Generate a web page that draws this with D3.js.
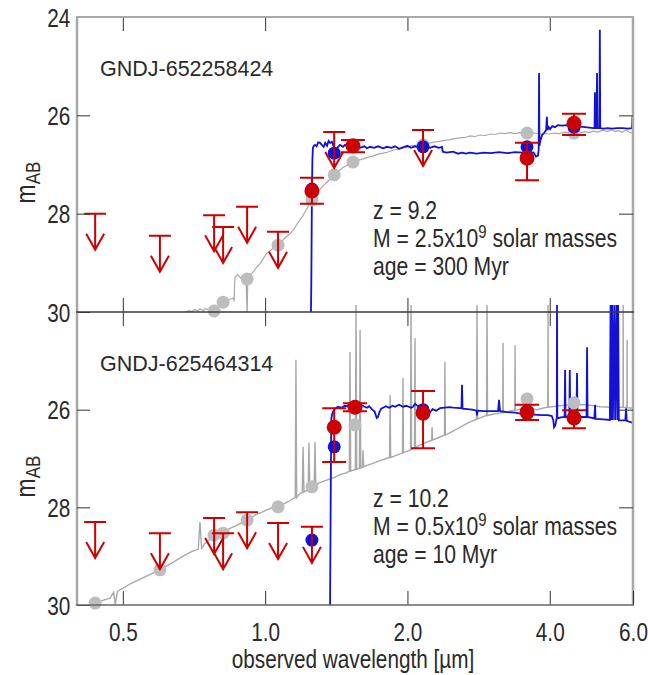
<!DOCTYPE html>
<html>
<head>
<meta charset="utf-8">
<script src="https://cdn.jsdelivr.net/npm/d3@7"></script>
<style>
body{margin:0;background:#fff}
svg text{font-family:"Liberation Sans",Arial,sans-serif;fill:#2a2a2a}
.tk text{font-size:25px}
.lbl{font-size:21.5px}
</style>
</head>
<body>
<div id="canvas"></div>
<script>
// ---- data (wavelength in micron, AB magnitude) ----
const xTicks = [0.5, 1.0, 2.0, 4.0, 6.0]
const yTicks = [24, 26, 28, 30]
const names = ["GNDJ-652258424", "GNDJ-625464314"]
const zText = ["z = 9.2", "z = 10.2"]
const massText = ["2.5", "0.5"]
const ageText = ["age = 300 Myr", "age = 10 Myr"]

// upper limits [wave, mag]
const topLimits = [[0.437,28.0],[0.599,28.45],[0.780,28.03],[0.815,28.27],[0.916,27.86],[1.065,28.37],[1.40,26.34],[2.158,26.30]]
const botLimits = [[0.437,28.30],[0.599,28.53],[0.780,28.22],[0.815,28.53],[0.916,28.10],[1.065,28.32],[1.256,28.40]]
// detections [wave, mag, upper err end, lower err end]
const topDetect = [[1.256,27.54,27.27,27.80],[1.534,26.62,26.50,26.75],[3.581,26.87,26.56,27.32],[4.502,26.16,25.97,26.40]]
const botDetect = [[1.40,26.36,25.97,27.07],[1.549,25.95,25.87,26.03],[2.158,26.07,25.62,26.79],[3.581,26.05,25.90,26.21],[4.502,26.17,26.01,26.38]]
// model photometry: high-z fit (blue), low-z alternative (gray)
const topModelPts = [[1.256,27.5],[1.40,26.77],[1.534,26.64],[2.158,26.64],[3.581,26.64],[4.502,26.24]]
const topAltPts = [[0.780,29.98],[0.815,29.80],[0.916,29.33],[1.065,28.64],[1.256,27.72],[1.40,27.21],[1.534,26.95],[2.158,26.60],[3.581,26.36],[4.502,26.36]]
const botModelPts = [[1.256,28.67],[1.40,26.76],[1.549,25.95],[2.158,26.0],[3.581,26.08],[4.502,26.15]]
const botAltPts = [[0.437,29.96],[0.599,29.28],[0.780,28.57],[0.815,28.53],[0.916,28.26],[1.065,27.99],[1.256,27.58],[1.549,26.31],[3.581,25.78],[4.502,25.86]]

// spectra
const topAltSpec = [[0.677,30.00],[0.69,29.97],[0.70,29.99],[0.711,29.95],[0.72,29.98],[0.728,29.94],[0.74,29.97],[0.746,29.93],[0.76,29.95],[0.772,29.92],[0.785,29.94],[0.80,29.86],[0.815,29.82],[0.83,29.78],[0.843,29.74],[0.855,29.72],[0.860,29.76],[0.863,29.30],[0.875,29.24],[0.89,29.32],[0.90,29.26],[0.912,29.36],[0.916,30.10],[0.919,29.30],[0.93,29.24],[0.945,29.18],[0.961,29.08],[0.975,29.02],[0.99,28.92],[1.009,28.80],[1.03,28.74],[1.045,28.68],[1.065,28.62],[1.08,28.58],[1.10,28.50],[1.112,28.46],[1.13,28.40],[1.145,28.34],[1.157,28.28],[1.17,28.20],[1.185,28.12],[1.20,28.05],[1.215,27.96],[1.232,27.86],[1.245,27.78],[1.262,27.68],[1.275,27.60],[1.29,27.56],[1.307,27.50],[1.33,27.42],[1.352,27.36],[1.37,27.30],[1.392,27.24],[1.406,27.20],[1.43,27.14],[1.461,27.06],[1.49,27.02],[1.512,26.98],[1.534,26.95],[1.56,26.93],[1.59,26.90],[1.62,26.88],[1.667,26.84],[1.70,26.82],[1.733,26.79],[1.776,26.77],[1.811,26.75],[1.85,26.72],[1.883,26.70],[1.92,26.69],[1.957,26.66],[2.0,26.65],[2.035,26.62],[2.08,26.61],[2.126,26.60],[2.18,26.58],[2.233,26.56],[2.30,26.54],[2.367,26.52],[2.45,26.50],[2.50,26.48],[2.584,26.46],[2.65,26.45],[2.713,26.42],[2.78,26.43],[2.848,26.40],[2.92,26.41],[3.0,26.38],[3.07,26.39],[3.14,26.36],[3.22,26.37],[3.30,26.35],[3.378,26.37],[3.461,26.35],[3.581,26.36],[3.688,26.36],[3.76,26.37],[3.853,26.38],[3.91,26.37],[4.006,26.38],[4.084,26.36],[4.2,26.37],[4.31,26.34],[4.416,26.36],[4.52,26.35],[4.64,26.36],[4.75,26.33],[4.84,26.35],[4.95,26.32],[5.05,26.34],[5.19,26.30],[5.30,26.33],[5.40,26.29],[5.50,26.33],[5.58,26.31],[5.70,26.34],[5.80,26.30],[5.90,26.35],[6.0,26.36]]
const topModelSpec = [[1.246,31.0],[1.252,29.5],[1.256,27.6],[1.259,26.9],[1.262,26.66],[1.268,26.62],[1.275,26.60],[1.285,26.63],[1.295,26.55],[1.307,26.56],[1.318,26.60],[1.33,26.64],[1.340,26.56],[1.352,26.62],[1.362,26.52],[1.372,26.56],[1.385,26.54],[1.399,26.66],[1.412,26.72],[1.426,26.64],[1.44,26.60],[1.461,26.64],[1.475,26.60],[1.49,26.62],[1.512,26.67],[1.534,26.64],[1.557,26.62],[1.588,26.66],[1.62,26.63],[1.643,26.67],[1.667,26.64],[1.70,26.66],[1.733,26.63],[1.776,26.67],[1.811,26.64],[1.85,26.66],[1.883,26.63],[1.92,26.68],[1.957,26.65],[2.0,26.62],[2.035,26.66],[2.075,26.63],[2.126,26.66],[2.18,26.62],[2.233,26.66],[2.28,26.63],[2.33,26.66],[2.367,26.64],[2.375,26.74],[2.42,26.76],[2.497,26.74],[2.56,26.78],[2.609,26.76],[2.66,26.78],[2.713,26.76],[2.80,26.78],[2.90,26.76],[3.0,26.77],[3.125,26.75],[3.25,26.77],[3.378,26.75],[3.50,26.76],[3.62,26.75],[3.70,26.76],[3.74,26.84],[3.776,26.82],[3.790,26.70],[3.797,25.14],[3.804,26.62],[3.825,26.50],[3.853,26.40],[3.89,26.36],[3.93,26.30],[3.945,26.03],[3.955,26.30],[3.98,26.24],[4.006,26.28],[4.05,26.22],[4.10,26.24],[4.16,26.20],[4.25,26.21],[4.35,26.20],[4.45,26.22],[4.55,26.21],[4.65,26.23],[4.75,26.24],[4.85,26.25],[4.95,26.26],[4.975,26.26],[4.985,25.53],[4.995,26.26],[5.025,26.26],[5.036,25.14],[5.046,26.26],[5.095,26.26],[5.105,24.26],[5.115,26.26],[5.19,26.27],[5.30,26.26],[5.42,26.27],[5.55,26.26],[5.70,26.26],[5.85,26.27],[5.97,26.26],[5.985,26.03],[6.0,26.03]]
const botAltSpec = [[0.40,30.10],[0.437,29.96],[0.455,29.90],[0.47,29.86],[0.478,29.74],[0.482,29.99],[0.487,29.72],[0.50,29.66],[0.52,29.56],[0.544,29.47],[0.57,29.38],[0.599,29.28],[0.63,29.16],[0.655,29.06],[0.677,28.98],[0.70,28.90],[0.722,28.86],[0.728,28.30],[0.734,28.84],[0.746,28.74],[0.763,28.66],[0.780,28.58],[0.80,28.54],[0.815,28.50],[0.843,28.43],[0.875,28.36],[0.900,28.30],[0.905,28.16],[0.910,28.28],[0.930,28.22],[0.961,28.14],[0.985,28.10],[1.009,28.05],[1.04,28.00],[1.065,27.97],[1.09,27.94],[1.11,27.90],[1.13,27.86],[1.145,27.82],[1.158,27.80],[1.162,24.98],[1.166,27.80],[1.175,27.76],[1.185,27.72],[1.198,27.70],[1.203,26.76],[1.208,27.69],[1.222,27.66],[1.233,27.64],[1.238,26.68],[1.243,27.62],[1.256,27.58],[1.270,27.56],[1.275,26.66],[1.280,27.55],[1.30,27.50],[1.335,27.46],[1.372,27.42],[1.405,27.38],[1.44,27.33],[1.49,27.29],[1.507,27.26],[1.512,24.82],[1.517,27.26],[1.534,27.24],[1.552,27.23],[1.557,23.8],[1.562,27.22],[1.583,27.20],[1.588,24.37],[1.593,27.19],[1.606,27.18],[1.611,26.83],[1.616,27.17],[1.643,27.14],[1.69,27.10],[1.733,27.06],[1.78,27.02],[1.833,26.98],[1.838,25.70],[1.843,26.98],[1.90,26.93],[1.952,26.89],[1.957,25.35],[1.962,26.88],[2.0,26.85],[2.030,26.82],[2.035,23.8],[2.040,26.81],[2.070,26.78],[2.075,24.53],[2.080,26.77],[2.126,26.72],[2.158,26.70],[2.20,26.66],[2.25,26.63],[2.255,26.36],[2.26,26.62],[2.33,26.57],[2.396,26.52],[2.401,25.02],[2.406,26.52],[2.497,26.44],[2.584,26.36],[2.65,26.30],[2.713,26.25],[2.80,26.20],[2.807,23.8],[2.814,26.19],[2.848,26.17],[2.94,26.12],[2.947,23.8],[2.954,26.12],[3.05,26.09],[3.14,26.07],[3.181,26.06],[3.186,24.63],[3.191,26.06],[3.29,26.03],[3.373,26.01],[3.378,24.68],[3.383,26.01],[3.461,25.99],[3.581,25.97],[3.70,25.99],[3.76,26.00],[3.90,25.96],[3.962,25.95],[3.967,23.8],[3.972,25.95],[4.2,25.92],[4.416,25.90],[4.6,25.90],[4.8,25.90],[5.11,25.94],[5.4,25.95],[5.715,25.95],[5.72,23.8],[5.725,25.95],[5.825,25.96],[5.83,24.57],[5.835,25.96],[6.0,25.97]]
const botModelSpec = [[1.370,31.0],[1.376,28.0],[1.380,26.20],[1.385,26.10],[1.392,26.04],[1.405,25.98],[1.426,25.94],[1.45,25.96],[1.475,25.92],[1.49,25.93],[1.512,25.88],[1.534,25.89],[1.557,25.91],[1.588,25.89],[1.615,25.93],[1.643,25.96],[1.66,25.93],[1.685,26.00],[1.705,26.04],[1.722,26.17],[1.733,26.15],[1.745,26.05],[1.76,25.98],[1.776,25.96],[1.80,25.93],[1.83,25.96],[1.86,25.92],[1.883,25.94],[1.92,25.90],[1.957,25.94],[1.99,25.92],[2.035,25.96],[2.055,25.94],[2.075,25.88],[2.10,25.92],[2.126,25.95],[2.16,26.00],[2.20,26.06],[2.233,26.05],[2.26,25.99],[2.30,26.02],[2.344,25.97],[2.40,25.96],[2.45,25.95],[2.50,25.96],[2.584,25.97],[2.602,25.97],[2.609,25.49],[2.616,25.98],[2.68,25.99],[2.74,26.00],[2.80,26.02],[2.807,26.12],[2.814,26.02],[2.90,26.03],[3.00,26.03],[3.11,26.03],[3.125,25.80],[3.14,26.03],[3.25,26.05],[3.378,26.06],[3.461,26.08],[3.58,26.10],[3.70,26.10],[3.85,26.11],[3.967,26.11],[4.040,26.13],[4.070,26.22],[4.084,26.36],[4.11,26.32],[4.130,26.20],[4.140,26.18],[4.144,23.8],[4.150,26.18],[4.22,26.16],[4.30,26.15],[4.310,25.19],[4.320,26.15],[4.40,26.15],[4.410,25.19],[4.420,26.15],[4.555,26.15],[4.568,25.25],[4.580,26.15],[4.785,26.15],[4.797,24.72],[4.809,26.15],[4.97,26.18],[4.988,25.90],[5.00,26.19],[5.20,26.20],[5.36,26.21],[5.38,23.8],[5.40,26.21],[5.42,23.8],[5.44,26.21],[5.48,23.8],[5.50,26.21],[5.54,23.8],[5.56,26.21],[5.58,23.8],[5.60,26.22],[5.78,26.22],[5.80,25.97],[5.82,26.23],[6.0,26.27]]

// ---- chart ----
const width = 648, height = 675
const red = "#cc0000", blue = "#1212d4", grey = "#bdbdbd"
const narrow = "scale(0.83,1)"
const svg = d3.select("#canvas").append("svg").attr("width", width).attr("height", height)
const x = d3.scaleLog().domain([0.4, 6]).range([77, 633])

const panels = [
  {top: 17, bottom: 312, clipTop: 17, limits: topLimits, det: topDetect, mpts: topModelPts, apts: topAltPts, mspec: topModelSpec, aspec: topAltSpec, labelY: 76, noteY: 219},
  {top: 312, bottom: 605, clipTop: 305, limits: botLimits, det: botDetect, mpts: botModelPts, apts: botAltPts, mspec: botModelSpec, aspec: botAltSpec, labelY: 371, noteY: 507}
]

panels.forEach((p, i) => {
  const y = d3.scaleLinear().domain([24, 30]).range([p.top, p.bottom])
  const g = svg.append("g")
  const cid = "clip" + i
  svg.append("clipPath").attr("id", cid).append("rect")
    .attr("x", 77).attr("y", p.clipTop).attr("width", 556).attr("height", p.bottom - p.clipTop)

  const line = d3.line().x(d => x(d[0])).y(d => y(d[1]))
  const spec = g.append("g").attr("clip-path", `url(#${cid})`)
  spec.append("path").datum(p.aspec).attr("d", line)
    .attr("fill", "none").attr("stroke", "#a8a8a8").attr("stroke-width", i ? 1.4 : 1.2)
  spec.append("path").datum(p.mspec).attr("d", line)
    .attr("fill", "none").attr("stroke", blue).attr("stroke-width", 1.8)

  g.selectAll(".ap").data(p.apts).enter().append("circle")
    .attr("cx", d => x(d[0])).attr("cy", d => y(d[1])).attr("r", 6.5).attr("fill", grey)
  g.selectAll(".mp").data(p.mpts).enter().append("circle")
    .attr("cx", d => x(d[0])).attr("cy", d => y(d[1])).attr("r", 6.5).attr("fill", blue)

  // upper limits
  const lim = g.selectAll(".lim").data(p.limits).enter().append("g")
    .attr("transform", d => `translate(${x(d[0])},${y(d[1])})`)
  lim.append("path").attr("d", "M-11,0H11M0,0V36M-9,20L0,36L9,20")
    .attr("fill", "none").attr("stroke", red).attr("stroke-width", 2)

  // detections with error bars
  const det = g.selectAll(".det").data(p.det).enter().append("g")
  det.append("path")
    .attr("d", d => { const cx = x(d[0]), a = y(d[2]), b = y(d[3]); return `M${cx-12},${a}H${cx+12}M${cx},${a}V${b}M${cx-12},${b}H${cx+12}` })
    .attr("fill", "none").attr("stroke", red).attr("stroke-width", 2)
  det.append("circle").attr("cx", d => x(d[0])).attr("cy", d => y(d[1])).attr("r", 7.5).attr("fill", red)

  // frame
  svg.append("line").attr("x1", 77).attr("x2", 77).attr("y1", p.top).attr("y2", p.bottom).attr("stroke", "#a8a8a8").attr("stroke-width", 2.5)
  svg.append("line").attr("x1", 633).attr("x2", 633).attr("y1", p.top).attr("y2", p.bottom).attr("stroke", "#a8a8a8").attr("stroke-width", 2.5)

  // axes
  const yl = svg.append("g").attr("class", "tk").attr("transform", "translate(77,0)").style("color", "#333")
    .call(d3.axisLeft(y).tickValues(i ? [26, 28, 30] : yTicks).tickSize(-13).tickPadding(8).tickFormat(d3.format("d")))
  yl.select(".domain").remove()
  yl.selectAll("text").attr("dy", "0.36em").attr("transform", narrow)
  const yr = svg.append("g").attr("transform", "translate(633,0)").style("color", "#333")
    .call(d3.axisRight(y).tickValues([26, 28]).tickSize(-14).tickFormat(""))
  yr.select(".domain").remove()
  const xt = svg.append("g").attr("transform", `translate(0,${p.top})`).style("color", "#333")
    .call(d3.axisTop(x).tickValues(xTicks.slice(0, 4)).tickSize(-14).tickFormat(""))
  xt.select(".domain").remove()
  const xb = svg.append("g").attr("class", "tk").attr("transform", `translate(0,${p.bottom})`).style("color", "#333")
    .call(d3.axisBottom(x).tickValues(i ? xTicks : xTicks.slice(0, 4)).tickSize(-14).tickPadding(18).tickFormat(i ? d3.format(".1f") : ""))
  xb.select(".domain").remove()
  xb.selectAll("text").attr("transform", narrow)

  // texts
  svg.append("text").attr("class", "lbl").attr("x", 100).attr("y", p.labelY).text(names[i])
  const nt = svg.append("g").attr("font-size", 25.5)
  nt.append("g").attr("transform", `translate(373,${p.noteY}) ${narrow}`).append("text").text(zText[i])
  const mt = nt.append("g").attr("transform", `translate(373,${p.noteY + 28}) ${narrow}`).append("text")
  mt.append("tspan").text("M = " + massText[i] + "x10")
  mt.append("tspan").attr("dy", -9).attr("font-size", 18).text("9")
  mt.append("tspan").attr("dy", 9).text(" solar masses")
  nt.append("g").attr("transform", `translate(373,${p.noteY + 56}) ${narrow}`).append("text").text(ageText[i])

  const yt = svg.append("text").attr("transform", `translate(35,${(p.top + p.bottom) / 2 + 18}) rotate(-90) scale(0.85,1)`)
    .attr("text-anchor", "middle").attr("font-size", 27)
  yt.append("tspan").text("m")
  yt.append("tspan").attr("dy", 5).attr("font-size", 20).text("AB")
})

// horizontal frame lines
svg.append("line").attr("x1", 76).attr("x2", 634).attr("y1", 17).attr("y2", 17).attr("stroke", "#a8a8a8").attr("stroke-width", 2)
svg.append("line").attr("x1", 76).attr("x2", 634).attr("y1", 312).attr("y2", 312).attr("stroke", "#3a3a3a").attr("stroke-width", 1.5)
svg.append("line").attr("x1", 76).attr("x2", 634).attr("y1", 605).attr("y2", 605).attr("stroke", "#666").attr("stroke-width", 1.5)

svg.append("g").attr("transform", `translate(353,668) ${narrow}`).append("text")
  .attr("text-anchor", "middle").attr("font-size", 25)
  .text("observed wavelength [µm]")
</script>
</body>
</html>
